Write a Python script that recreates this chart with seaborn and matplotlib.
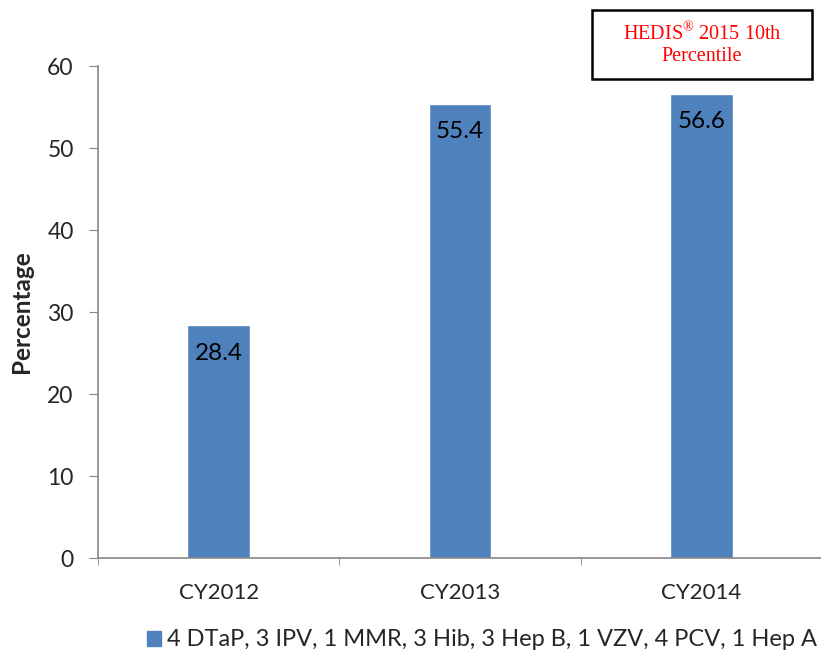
import matplotlib.pyplot as plt
import seaborn as sns
import pandas as pd
from matplotlib.ticker import FixedLocator

sns.set_style('white')
plt.rcParams['font.family'] = ['Lato', 'DejaVu Sans']
plt.rcParams['mathtext.fontset'] = 'custom'
plt.rcParams['mathtext.rm'] = 'Liberation Serif'

years = ['CY2012', 'CY2013', 'CY2014']
rates = [28.4, 55.4, 56.6]
series_name = '4 DTaP, 3 IPV, 1 MMR, 3 Hib, 3 Hep B, 1 VZV, 4 PCV, 1 Hep A'

df = pd.DataFrame({'Year': years, 'Rate': rates, 'Series': series_name})

fig = plt.figure(figsize=(8.21, 6.55), dpi=100)
ax = fig.add_axes([0.1194, 0.148, 0.882, 0.751])

sns.barplot(data=df, x='Year', y='Rate', hue='Series', palette=['#4F81BD'],
            width=0.26, ax=ax, legend=False, saturation=1)

for i, v in enumerate(rates):
    ax.text(i, v - 3.4, f'{v}', ha='center', va='center', fontsize=17.5, color='black')

ax.set_ylim(0, 60)
ax.set_xlim(-0.5, 2.5)
ax.set_yticks(range(0, 61, 10))
ax.set_xlabel('')
ax.set_ylabel('Percentage', fontsize=17.5, fontweight='bold')
ax.yaxis.set_label_coords(-0.09, 0.5)
ax.tick_params(axis='y', labelsize=16.5, length=6.5, color='#868686', left=True, pad=11)
ax.tick_params(axis='x', which='major', labelsize=16, length=0, pad=18)
ax.xaxis.set_minor_locator(FixedLocator([-0.5, 0.5, 1.5, 2.5]))
ax.tick_params(axis='x', which='minor', length=5, color='#868686', bottom=True)

for s in ['top', 'right']:
    ax.spines[s].set_visible(False)
for s in ['left', 'bottom']:
    ax.spines[s].set_color('#868686')
    ax.spines[s].set_linewidth(1.2)

handle = plt.Rectangle((0, 0), 1, 1, color='#4F81BD')
fig.legend([handle], [series_name], loc='center', bbox_to_anchor=(0.587, 0.023),
           frameon=False, fontsize=17, handlelength=0.6, handleheight=0.6,
           handletextpad=0.25)

# note box
box = plt.Rectangle((592 / 821, 1 - 79 / 655), 220 / 821, 69 / 655, transform=fig.transFigure,
                    facecolor='white', edgecolor='black', linewidth=1.8)
fig.patches.append(box)
fig.text(702 / 821, 1 - 44 / 655, 'HEDIS$^{®}$ 2015 10th\nPercentile', ha='center', va='center',
         color='red', fontsize=14.5, family='Liberation Serif', linespacing=1.15)

fig.savefig('out.png', dpi=100)
